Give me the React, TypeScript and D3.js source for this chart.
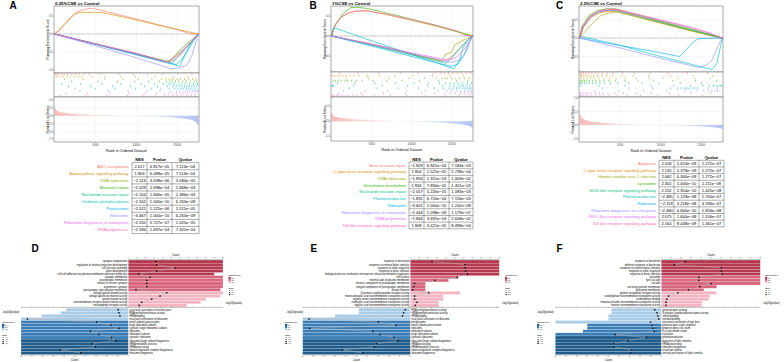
import * as d3 from 'd3';

const FONT = '"Liberation Sans", Arial, Helvetica, sans-serif';
const HUE = ['#F8766D', '#D89000', '#A3A500', '#39B600', '#00BF7D', '#00BFC4', '#00B0F6', '#9590FF', '#E76BF3', '#FF62BC'];
const N_GENES = 17600;
const RANK_TICKS = [5000, 10000, 15000];

type Pt = [number, number];

// ---------- A: 0.25%CSE vs Control ----------
const aTitle = '0.25%CSE vs Control';
const aSets = ['ABC transporters', 'Adipocytokine signaling pathway', 'DNA replication', 'Mismatch repair', 'Nucleotide excision repair', 'Oxidative phosphorylation', 'Proteasome', 'Ribosome', 'Ribosome biogenesis in eukaryotes', 'RNA polymerase'];
const aNes = [2.017, 1.903, -2.116, -2.029, -2.104, -2.502, -2.521, -3.467, -2.25, -2.336];
const aP = [6.817e-5, 6.088e-5, 3.638e-6, 2.698e-4, 1.666e-5, 1.0e-10, 1.225e-6, 1.0e-10, 5.727e-7, 1.697e-4];
const aQ = [7.113e-4, 7.113e-4, 3.084e-5, 1.668e-3, 2.486e-4, 6.263e-9, 5.115e-5, 6.263e-9, 1.025e-5, 7.422e-4];
const aCurves: Pt[][] = [
  [[0, 0], [600, 0.1], [1200, 0.26], [2000, 0.45], [2600, 0.6], [3300, 0.66], [4300, 0.71], [5200, 0.69], [8000, 0.53], [12000, 0.3], [15000, 0.12], [16600, 0.01], [17600, 0]],
  [[0, 0], [800, 0.18], [1800, 0.42], [2500, 0.56], [3200, 0.6], [5800, 0.6], [9000, 0.44], [13000, 0.23], [16000, 0.08], [17600, 0]],
  [[0, 0], [4000, -0.22], [8000, -0.45], [12000, -0.67], [13800, -0.79], [14400, -0.7], [15400, -0.52], [16500, -0.3], [17600, 0]],
  [[0, 0], [5000, -0.27], [10000, -0.55], [14000, -0.77], [14600, -0.63], [15300, -0.46], [16000, -0.31], [16800, -0.16], [17600, 0]],
  [[0, 0], [5000, -0.28], [10000, -0.57], [14300, -0.82], [14900, -0.68], [15700, -0.48], [16600, -0.25], [17600, 0]],
  [[0, 0], [5000, -0.29], [10000, -0.58], [15300, -0.89], [15900, -0.62], [16500, -0.32], [17100, -0.12], [17600, 0]],
  [[0, 0], [5000, -0.28], [10000, -0.56], [14900, -0.85], [15600, -0.7], [16300, -0.45], [17000, -0.2], [17600, 0]],
  [[0, 0], [5000, -0.33], [10000, -0.66], [14300, -0.97], [15400, -0.93], [16200, -0.86], [16800, -0.6], [17200, -0.3], [17600, 0]],
  [[0, 0], [5000, -0.28], [10000, -0.56], [14000, -0.8], [14700, -0.7], [15500, -0.55], [16400, -0.3], [17600, 0]],
  [[0, 0], [5000, -0.27], [10000, -0.53], [13700, -0.77], [14500, -0.66], [15400, -0.5], [16400, -0.28], [17600, 0]],
];
const aHits: number[][] = [
  [0.1, 0.3, 0.5, 0.9, 1.2, 1.6, 2.1, 2.6, 3.0, 3.6, 4.2, 5.5, 7.8, 9.6, 11.4, 13.2, 15.1, 16.8],
  [0.2, 0.4, 0.8, 1.1, 1.5, 1.9, 2.4, 2.9, 3.3, 4.6, 6.2, 8.1, 9.9, 12.3, 14.6, 16.2],
  [1.2, 3.5, 6.1, 8.4, 10.2, 11.9, 13.1, 13.6, 14.0, 14.3, 14.6, 15.0, 15.4, 15.9, 16.4, 16.9, 17.3],
  [2.1, 5.3, 7.7, 9.8, 11.5, 12.8, 13.7, 14.1, 14.4, 14.8, 15.2, 15.7, 16.1, 16.6, 17.1, 17.4],
  [0.9, 3.2, 5.8, 8.1, 10.6, 12.2, 13.3, 13.9, 14.2, 14.6, 15.1, 15.5, 16.0, 16.5, 17.0, 17.5],
  [1.7, 4.4, 7.1, 9.3, 11.0, 12.6, 13.8, 14.5, 14.9, 15.3, 15.6, 15.9, 16.2, 16.5, 16.8, 17.1, 17.4],
  [2.5, 5.0, 7.4, 9.9, 11.8, 13.0, 14.0, 14.7, 15.1, 15.5, 15.8, 16.1, 16.4, 16.7, 17.0, 17.3],
  [3.1, 6.6, 9.0, 11.3, 12.9, 14.2, 14.9, 15.3, 15.6, 16.0, 16.3, 16.6, 16.9, 17.1, 17.3, 17.5],
  [1.4, 4.0, 6.8, 9.1, 11.1, 12.5, 13.5, 14.0, 14.4, 14.9, 15.4, 15.8, 16.3, 16.8, 17.2],
  [0.6, 3.8, 6.4, 8.9, 10.9, 12.4, 13.4, 13.9, 14.5, 15.0, 15.6, 16.2, 16.7, 17.2],
];
const aMetric: Pt[] = [[0, 2.6], [300, 1.6], [1000, 1.0], [3000, 0.55], [6000, 0.25], [9000, 0.02], [12000, -0.25], [15000, -0.7], [16800, -1.4], [17400, -2.4], [17600, -3.2]];
const aEsTicks = [0.5, 0, -0.5, -1.0];
const aMetricTicks = [5, 2.5, 0, -2.5, -5, -7.5];

// ---------- B: 1%CSE vs Control ----------
const bTitle = '1%CSE vs Control';
const bSets = ['Base excision repair', 'C-type lectin receptor signaling pathway', 'DNA replication', 'Glutathione metabolism', 'Nucleotide excision repair', 'Phototransduction', 'Ribosome', 'Ribosome biogenesis in eukaryotes', 'RNA polymerase', 'Toll-like receptor signaling pathway'];
const bNes = [-1.829, 1.904, -1.856, 1.934, -2.057, -1.831, -3.601, -2.444, -1.844, 1.908];
const bP = [6.941e-4, 1.521e-5, 1.351e-3, 7.894e-5, 5.226e-5, 6.72e-4, 1.0e-10, 1.098e-9, 3.691e-3, 3.421e-5];
const bQ = [7.184e-3, 5.738e-4, 1.009e-2, 1.401e-3, 1.083e-3, 7.156e-3, 1.242e-8, 1.179e-7, 2.608e-2, 8.498e-4];
const bCurves: Pt[][] = [
  [[0, 0], [5000, -0.22], [10000, -0.45], [14000, -0.63], [14800, -0.55], [15600, -0.4], [16500, -0.2], [17600, 0]],
  [[0, 0], [400, 0.25], [1200, 0.48], [2200, 0.58], [3000, 0.62], [4500, 0.63], [7000, 0.53], [10000, 0.39], [13000, 0.25], [15500, 0.12], [17600, 0]],
  [[0, 0], [5000, -0.2], [10000, -0.45], [13800, -0.63], [14200, -0.46], [15000, -0.41], [15400, -0.22], [16500, -0.1], [17600, 0]],
  [[0, 0], [500, 0.3], [1400, 0.55], [2400, 0.71], [3200, 0.72], [4400, 0.69], [7000, 0.57], [10000, 0.42], [13000, 0.27], [15500, 0.12], [17600, 0]],
  [[0, 0], [5000, -0.23], [10000, -0.47], [14300, -0.68], [15000, -0.55], [15800, -0.35], [16800, -0.15], [17600, 0]],
  [[0, 0], [150, 0.18], [400, 0.2], [5000, -0.12], [10000, -0.46], [15300, -0.82], [16000, -0.6], [16400, -0.3], [17000, -0.1], [17600, 0]],
  [[0, 0], [5000, -0.25], [10000, -0.51], [15000, -0.76], [15800, -0.7], [16500, -0.5], [17100, -0.2], [17600, 0]],
  [[0, 0], [5000, -0.21], [10000, -0.44], [15000, -0.66], [16000, -0.6], [16800, -0.4], [17300, -0.15], [17600, 0]],
  [[0, 0], [5000, -0.2], [10000, -0.42], [14500, -0.6], [15500, -0.55], [16500, -0.35], [17600, 0]],
  [[0, 0], [300, 0.22], [1000, 0.44], [2000, 0.57], [3000, 0.62], [4300, 0.63], [7000, 0.54], [10000, 0.41], [13000, 0.27], [15800, 0.12], [16500, 0.02], [17600, 0]],
];
const bHits: number[][] = [
  [1.0, 3.3, 5.9, 8.6, 10.8, 12.7, 13.6, 14.1, 14.6, 15.1, 15.7, 16.3, 16.9, 17.4],
  [0.1, 0.4, 0.7, 1.0, 1.4, 1.8, 2.3, 2.8, 3.4, 4.5, 6.0, 7.9, 10.1, 12.6, 14.8, 16.5],
  [1.8, 4.6, 7.2, 9.7, 11.6, 13.0, 13.8, 14.2, 14.5, 15.0, 15.4, 16.0, 16.6, 17.2],
  [0.2, 0.5, 0.8, 1.2, 1.7, 2.0, 2.5, 3.1, 3.8, 5.2, 6.9, 8.8, 11.0, 13.4, 15.6, 17.0],
  [0.7, 2.9, 5.4, 8.0, 10.3, 12.1, 13.5, 14.3, 14.8, 15.3, 15.8, 16.4, 17.0, 17.5],
  [0.05, 0.1, 0.2, 2.7, 6.3, 9.5, 12.0, 13.9, 14.8, 15.3, 15.9, 16.2, 16.5, 16.9, 17.3],
  [2.2, 5.7, 8.3, 10.9, 12.8, 14.0, 14.7, 15.2, 15.6, 16.0, 16.4, 16.7, 17.0, 17.2, 17.4],
  [1.5, 4.2, 7.0, 9.4, 11.7, 13.3, 14.4, 15.0, 15.7, 16.2, 16.6, 16.9, 17.2, 17.5],
  [0.8, 3.7, 6.5, 9.2, 11.3, 12.9, 14.1, 14.9, 15.5, 16.1, 16.6, 17.1, 17.5],
  [0.1, 0.3, 0.6, 0.9, 1.3, 1.8, 2.2, 2.7, 3.2, 3.9, 5.4, 7.3, 9.4, 11.8, 14.2, 16.0, 17.3],
];
const bMetric: Pt[] = [[0, 0.9], [300, 0.5], [1500, 0.3], [5000, 0.12], [9000, 0], [13000, -0.12], [16000, -0.3], [17300, -0.5], [17600, -0.7]];
const bEsTicks = [0.5, 0, -0.5];
const bMetricTicks = [1.5, 0, -1.5];

// ---------- C: 2.5%CSE vs Control ----------
const cTitle = '2.5%CSE vs Control';
const cSets = ['Apoptosis', 'C-type lectin receptor signaling pathway', 'Herpes simplex virus 1 infection', 'Lysosome', 'NOD-like receptor signaling pathway', 'Phototransduction', 'Ribosome', 'Ribosome biogenesis in eukaryotes', 'RIG-I-like receptor signaling pathway', 'Toll-like receptor signaling pathway'];
const cNes = [2.058, 2.135, 2.062, 2.302, 2.152, -2.485, -2.118, -2.48, 2.075, 2.164];
const cP = [5.613e-9, 5.379e-9, 6.3e-9, 1.0e-10, 2.354e-10, 1.129e-8, 3.218e-8, 4.6e-10, 1.6e-8, 8.448e-9];
const cQ = [1.272e-7, 1.272e-7, 1.272e-7, 1.211e-8, 1.425e-8, 1.7e-7, 4.336e-7, 1.856e-8, 1.556e-7, 1.461e-7];
const cCurves: Pt[][] = [
  [[0, 0], [500, 0.3], [1500, 0.58], [2500, 0.7], [3500, 0.76], [4500, 0.77], [7000, 0.62], [10000, 0.44], [13000, 0.26], [15500, 0.12], [17600, 0]],
  [[0, 0], [400, 0.28], [1300, 0.55], [2400, 0.68], [3600, 0.72], [4600, 0.72], [7000, 0.58], [10000, 0.41], [13000, 0.24], [16000, 0.08], [17600, 0]],
  [[0, 0], [600, 0.15], [1500, 0.38], [2600, 0.6], [3600, 0.68], [4700, 0.7], [7000, 0.57], [10000, 0.4], [13000, 0.23], [16000, 0.07], [17600, 0]],
  [[0, 0], [300, 0.32], [1200, 0.62], [2200, 0.74], [3300, 0.79], [4300, 0.79], [7000, 0.64], [10000, 0.46], [13000, 0.28], [16000, 0.1], [17600, 0]],
  [[0, 0], [400, 0.3], [1400, 0.6], [2500, 0.72], [3500, 0.75], [4600, 0.74], [7000, 0.6], [10000, 0.43], [13000, 0.26], [16000, 0.09], [17600, 0]],
  [[0, 0], [100, 0.05], [5000, -0.2], [10000, -0.5], [15000, -0.78], [16300, -0.85], [16900, -0.7], [17300, -0.3], [17600, 0]],
  [[0, 0], [5000, -0.2], [10000, -0.4], [12300, -0.5], [13000, -0.35], [13800, -0.15], [14600, -0.02], [17600, 0]],
  [[0, 0], [5000, -0.27], [10000, -0.55], [14700, -0.8], [15500, -0.75], [16300, -0.6], [16800, -0.35], [17300, -0.1], [17600, 0]],
  [[0, 0], [450, 0.3], [1400, 0.58], [2500, 0.71], [3600, 0.75], [4700, 0.75], [7000, 0.62], [10000, 0.47], [13000, 0.32], [16000, 0.13], [17600, 0]],
  [[0, 0], [350, 0.31], [1300, 0.6], [2300, 0.73], [3400, 0.78], [4500, 0.78], [7000, 0.65], [10000, 0.49], [13000, 0.33], [16000, 0.14], [17600, 0]],
];
const cHits: number[][] = [
  [0.1, 0.3, 0.5, 0.8, 1.1, 1.5, 1.9, 2.3, 2.8, 3.4, 4.1, 5.3, 6.8, 8.7, 10.9, 13.3, 15.8],
  [0.1, 0.2, 0.4, 0.7, 1.0, 1.3, 1.7, 2.2, 2.7, 3.3, 4.0, 5.1, 6.6, 8.5, 11.2, 14.0, 16.4],
  [0.2, 0.5, 0.9, 1.4, 1.8, 2.4, 3.0, 3.7, 4.5, 5.6, 7.0, 8.6, 10.3, 12.1, 14.2, 16.1],
  [0.05, 0.2, 0.4, 0.6, 0.9, 1.2, 1.6, 2.0, 2.5, 3.0, 3.6, 4.4, 5.6, 7.2, 9.1, 11.5, 14.3, 16.9],
  [0.1, 0.3, 0.6, 0.9, 1.2, 1.6, 2.0, 2.5, 3.1, 3.8, 4.7, 6.0, 7.7, 9.8, 12.4, 15.0],
  [0.05, 2.4, 5.6, 8.8, 11.6, 13.7, 15.2, 16.0, 16.5, 16.9, 17.2, 17.4, 17.5],
  [2.8, 6.1, 9.0, 11.2, 12.1, 12.5, 12.9, 13.2, 13.5, 13.9, 14.2, 14.5, 15.8, 17.0],
  [1.9, 4.8, 7.9, 10.7, 13.0, 14.5, 15.3, 15.9, 16.3, 16.7, 17.0, 17.3],
  [0.1, 0.4, 0.7, 1.0, 1.4, 1.9, 2.4, 2.9, 3.5, 4.3, 5.4, 6.9, 8.8, 11.1, 13.7, 16.2],
  [0.1, 0.2, 0.5, 0.8, 1.1, 1.5, 2.0, 2.5, 3.0, 3.7, 4.6, 5.9, 7.5, 9.6, 12.2, 15.1],
];
const cMetric: Pt[] = [[0, 2.2], [200, 1.5], [800, 0.9], [2500, 0.5], [6000, 0.15], [10000, -0.05], [14000, -0.2], [16500, -0.4], [17600, -0.7]];
const cEsTicks = [0.5, 0, -0.5];
const cMetricTicks = [5, 2.5, 0, -2.5];

// ---------- D ----------
const dUpTerms = ['synapse organization', 'regulation of neuron projection development', 'cell junction assembly', 'axon development', 'cell-cell adhesion via plasma-membrane adhesion molecules', 'synaptic membrane', 'postsynaptic membrane', 'neuron to neuron synapse', 'asymmetric synapse', 'postsynaptic specialization membrane', 'voltage-gated channel activity', 'voltage-gated ion channel activity', 'gated channel activity', 'transmembrane receptor protein kinase activity', 'neuropeptide receptor activity'];
const dUpOnt = ['BP', 'BP', 'BP', 'BP', 'BP', 'CC', 'CC', 'CC', 'CC', 'CC', 'MF', 'MF', 'MF', 'MF', 'MF'];
const dUpCount = [110, 110, 110, 110, 100, 110, 110, 110, 110, 107, 110, 107, 90, 84, 68];
const dUpNlp = [12.9, 13.2, 21.8, 13.2, 5.1, 10.1, 8.6, 8.6, 8.6, 3.6, 17.9, 14.8, 10.9, 6.2, 5.1];
const dDownTerms = ['structural constituent of nuclear pore', 'RNA methyltransferase activity', 'rRNA binding', 'structural constituent of ribosome', 'small-subunit processome', 'large ribosomal subunit', 'cytosolic large ribosomal subunit', 'ribosome', 'ribosomal subunit', 'cytosolic ribosome', 'ribosomal large subunit biogenesis', 'rRNA metabolic process', 'rRNA processing', 'ribonucleoprotein complex biogenesis', 'ribosome biogenesis'];
const dDownOnt = ['MF', 'MF', 'MF', 'MF', 'CC', 'CC', 'CC', 'CC', 'CC', 'CC', 'BP', 'BP', 'BP', 'BP', 'BP'];
const dDownCount = [58, 63, 81, 100, 100, 100, 100, 100, 100, 100, 100, 100, 100, 100, 100];
const dDownNlp = [4.7, 4.4, 3.9, 47.0, 14.8, 8.1, 4.4, 17.6, 13.7, 7.8, 5.9, 16.7, 15.3, 31.6, 22.1];

// ---------- E ----------
const eUpTerms = ['response to bacterium', 'response to external biotic stimulus', 'response to other organism', 'response to biotic stimulus', 'biological process involved in interspecies interaction between organisms', 'cell surface', 'external side of plasma membrane', 'intrinsic component of postsynaptic membrane', 'integral component of postsynaptic membrane', 'keratin filament', 'G protein-coupled peptide receptor activity', 'monocarboxylic acid transmembrane transporter activity', 'organic anion transmembrane transporter activity', 'carboxylic acid transmembrane transporter activity', 'organic acid transmembrane transporter activity'];
const eUpOnt = dUpOnt;
const eUpCount = [100, 100, 100, 100, 100, 54, 43, 17, 17, 17, 56, 37, 37, 32, 32];
const eUpNlp = [10.1, 25.4, 25.4, 25.7, 26.5, 21.8, 11.4, 2.0, 1.6, 1.1, 8.6, 2.0, 2.0, 3.1, 2.3];
const eDownTerms = ['RNA methyltransferase activity', 'rRNA methyltransferase activity', 'rRNA binding', 'structural constituent of ribosome', 'preribosome', 'small-subunit processome', 'ribosome', 'ribosomal subunit', 'large ribosomal subunit', 'cytosolic ribosome', 'ribosomal large subunit biogenesis', 'rRNA processing', 'rRNA metabolic process', 'ribonucleoprotein complex biogenesis', 'ribosome biogenesis'];
const eDownOnt = dDownOnt;
const eDownCount = [48, 48, 70, 100, 100, 100, 100, 100, 100, 100, 100, 100, 100, 100, 100];
const eDownNlp = [2.3, 3.1, 3.6, 47.0, 14.8, 6.7, 46.7, 17.4, 14.0, 7.5, 5.8, 15.6, 16.7, 31.5, 22.1];

// ---------- F ----------
const fUpTerms = ['response to bacterium', 'defense response to bacterium', 'response to external biotic stimulus', 'response to other organism', 'response to biotic stimulus', 'lysosome', 'lytic vacuole', 'vacuole', 'secretory granule membrane', 'lysosomal membrane', 'pattern recognition receptor activity', 'carbohydrate transmembrane transporter activity', 'carbohydrate binding', 'monosaccharide transmembrane transporter activity', 'hexose transmembrane transporter activity'];
const fUpOnt = dUpOnt;
const fUpCount = [100, 100, 100, 100, 100, 100, 100, 100, 56, 43, 56, 49, 48, 41, 41];
const fUpNlp = [11.2, 6.2, 28.3, 28.3, 28.7, 17.8, 17.8, 23.4, 18.2, 12.8, 7.8, 3.4, 2.6, 2.2, 2.2];
const fDownTerms = ['photoreceptor activity', 'G protein-coupled photoreceptor activity', 'retinal binding', 'retinoid binding', 'structural constituent of eye lens', 'photoreceptor outer segment', 'photoreceptor cell cilium', '9+0 non-motile cilium', 'nucleolus', 'phototransduction', 'detection of light stimulus', 'rRNA processing', 'ribosome biogenesis', 'visual perception', 'sensory perception of light stimulus'];
const fDownOnt = ['MF', 'MF', 'MF', 'MF', 'MF', 'CC', 'CC', 'CC', 'CC', 'BP', 'BP', 'BP', 'BP', 'BP', 'BP'];
const fDownCount = [47, 47, 50, 50, 100, 70, 70, 74, 100, 100, 100, 100, 100, 100, 100];
const fDownNlp = [3.1, 2.0, 1.6, 1.2, 5.1, 4.4, 3.9, 3.3, 21.8, 7.0, 15.6, 22.3, 22.3, 14.0, 14.5];

const upNesLabels = ['1.9', '2.0', '2.1'];
const downNesLabels = ['-2.4', '-2.2', '-2.0', '-1.8'];

const RED: Record<string, string> = { BP: '#B63A50', CC: '#D8667D', MF: '#F4B5C2' };
const BLUE: Record<string, string> = { BP: '#1F5C8B', CC: '#3B7DB6', MF: '#A9CCE8' };

function fmtNes(v: number) {
  return (v < 0 ? '\u2212' : '') + Math.abs(v).toFixed(3);
}
function fmtSci(v: number) {
  const [m, e] = v.toExponential(3).split('e');
  const n = parseInt(e, 10);
  return `${m}e${n < 0 ? '\u2212' : '+'}${String(Math.abs(n)).padStart(2, '0')}`;
}

type GseaLayout = {
  letterX: number; left: number; right: number; top: number; mid1: number; mid2: number; bottom: number;
  es0: number; esUnit: number; m0: number; mUnit: number;
  nameX: number; cols: number[]; headY: number; bodyTop: number; rowH: number;
};

type GseaProps = {
  id: string; letter: string; title: string; sets: string[]; nes: number[]; pv: number[]; qv: number[];
  curves: Pt[][]; hits: number[][]; metric: Pt[]; esTicks: number[]; metricTicks: number[]; L: GseaLayout;
};

function GseaPanel({ id, letter, title, sets, nes, pv, qv, curves, hits, metric, esTicks, metricTicks, L }: GseaProps) {
  const x = d3.scaleLinear().domain([0, N_GENES]).range([L.left + 0.6, L.right - 0.6]);
  const yEs = d3.scaleLinear().domain([0, 1]).range([L.es0, L.es0 - L.esUnit]);
  const yM = d3.scaleLinear().domain([0, 1]).range([L.m0, L.m0 - L.mUnit]);
  const line = d3.line<Pt>().x((d) => x(d[0])).y((d) => yEs(d[1]));
  const area = d3.area<Pt>().x((d) => x(d[0])).y0(yM(0)).y1((d) => yM(d[1])).curve(d3.curveMonotoneX);
  const rugH = (L.mid2 - L.mid1) / sets.length;
  const fmt1 = d3.format('.1f');
  const W = L.right - L.left;
  const tickCol = '#4D4D4D';
  const grid = '#EBEBEB';
  const rows = d3.range(sets.length);
  const cellX = [0, 1, 2].map((i) => (L.cols[i] + L.cols[i + 1]) / 2);
  return (
    <g>
      <defs>
        <clipPath id={`clip-${id}`}>
          <rect x={L.left} y={L.top} width={W} height={L.mid1 - L.top} />
        </clipPath>
        <linearGradient id={`grad-${id}`} x1="0" x2="1" y1="0" y2="0">
          <stop offset="0%" stopColor="#F59C96" stopOpacity={0.7} />
          <stop offset="45%" stopColor="#FBE3E1" stopOpacity={0.5} />
          <stop offset="55%" stopColor="#E3E9FA" stopOpacity={0.5} />
          <stop offset="100%" stopColor="#8EA9EE" stopOpacity={0.7} />
        </linearGradient>
      </defs>
      <text x={L.letterX} y={9} fontSize={10} fontWeight="bold">{letter}</text>
      <text x={L.left + 1} y={4.6} fontSize={4.4} fontWeight="bold">{title}</text>

      {/* running enrichment score */}
      <rect x={L.left} y={L.top} width={W} height={L.mid1 - L.top} fill="white" />
      {RANK_TICKS.map((t) => <line key={t} x1={x(t)} x2={x(t)} y1={L.top} y2={L.mid1} stroke={grid} strokeWidth={0.4} />)}
      {esTicks.map((t) => <line key={t} x1={L.left} x2={L.right} y1={yEs(t)} y2={yEs(t)} stroke={grid} strokeWidth={0.4} />)}
      <line x1={L.left} x2={L.right} y1={yEs(0)} y2={yEs(0)} stroke="#555" strokeWidth={0.45} strokeDasharray="1.2,0.9" />
      <g clipPath={`url(#clip-${id})`}>
        {curves.map((c, i) => <path key={i} d={line(c) ?? ''} fill="none" stroke={HUE[i]} strokeWidth={0.65} />)}
      </g>
      <rect x={L.left} y={L.top} width={W} height={L.mid1 - L.top} fill="none" stroke="#555" strokeWidth={0.5} />
      {esTicks.map((t) => (
        <g key={t}>
          <line x1={L.left - 0.8} x2={L.left} y1={yEs(t)} y2={yEs(t)} stroke="#555" strokeWidth={0.3} />
          <text x={L.left - 1.2} y={yEs(t) + 1} fontSize={2.8} textAnchor="end" fill={tickCol}>{fmt1(t)}</text>
        </g>
      ))}
      <text transform={`translate(${L.left - 5},${(L.top + L.mid1) / 2}) rotate(-90)`} fontSize={3.4} textAnchor="middle">Running Enrichment Score</text>

      {/* rug of hits */}
      <rect x={L.left} y={L.mid1} width={W} height={L.mid2 - L.mid1} fill="white" stroke="#555" strokeWidth={0.5} />
      {hits.map((hs, i) => hs.map((h, j) => (
        <line key={`${i}-${j}`} x1={x(h * 1000)} x2={x(h * 1000)} y1={L.mid1 + i * rugH + 0.25} y2={L.mid1 + (i + 1) * rugH - 0.25} stroke={HUE[i]} strokeWidth={0.55} />
      )))}

      {/* ranked list metric */}
      <rect x={L.left} y={L.mid2} width={W} height={L.bottom - L.mid2} fill="white" />
      {RANK_TICKS.map((t) => <line key={t} x1={x(t)} x2={x(t)} y1={L.mid2} y2={L.bottom} stroke={grid} strokeWidth={0.4} />)}
      {metricTicks.map((t) => <line key={t} x1={L.left} x2={L.right} y1={yM(t)} y2={yM(t)} stroke={grid} strokeWidth={0.4} />)}
      <path d={area(metric) ?? ''} fill={`url(#grad-${id})`} />
      <rect x={L.left} y={L.mid2} width={W} height={L.bottom - L.mid2} fill="none" stroke="#555" strokeWidth={0.5} />
      {metricTicks.map((t) => (
        <g key={t}>
          <line x1={L.left - 0.8} x2={L.left} y1={yM(t)} y2={yM(t)} stroke="#555" strokeWidth={0.3} />
          <text x={L.left - 1.2} y={yM(t) + 1} fontSize={2.8} textAnchor="end" fill={tickCol}>{fmt1(t)}</text>
        </g>
      ))}
      <text transform={`translate(${L.left - 5},${(L.mid2 + L.bottom) / 2}) rotate(-90)`} fontSize={3.4} textAnchor="middle">Ranked List Metric</text>
      {RANK_TICKS.map((t) => (
        <g key={t}>
          <line x1={x(t)} x2={x(t)} y1={L.bottom} y2={L.bottom + 0.8} stroke="#555" strokeWidth={0.3} />
          <text x={x(t)} y={L.bottom + 3.8} fontSize={2.9} textAnchor="middle" fill={tickCol}>{t}</text>
        </g>
      ))}
      <text x={(L.left + L.right) / 2} y={L.bottom + 9.5} fontSize={3.7} textAnchor="middle">Rank in Ordered Dataset</text>

      {/* table */}
      {['NES', 'Pvalue', 'Qvalue'].map((h, i) => (
        <text key={h} x={cellX[i]} y={L.headY} fontSize={4.1} fontWeight="bold" textAnchor="middle">{h}</text>
      ))}
      {rows.map((i) => {
        const cy = L.bodyTop + (i + 0.5) * L.rowH + 1.4;
        return (
          <g key={i}>
            <text x={L.nameX} y={cy} fontSize={4.1} textAnchor="end" fill={HUE[i]}>{sets[i]}</text>
            <text x={cellX[0]} y={cy} fontSize={4.1} textAnchor="middle">{fmtNes(nes[i])}</text>
            <text x={cellX[1]} y={cy} fontSize={4.1} textAnchor="middle">{fmtSci(pv[i])}</text>
            <text x={cellX[2]} y={cy} fontSize={4.1} textAnchor="middle">{fmtSci(qv[i])}</text>
          </g>
        );
      })}
      {d3.range(sets.length + 1).map((i) => (
        <line key={i} x1={L.cols[0]} x2={L.cols[3]} y1={L.bodyTop + i * L.rowH} y2={L.bodyTop + i * L.rowH} stroke="#333" strokeWidth={0.4} />
      ))}
      {L.cols.map((c, i) => (
        <line key={i} x1={c} x2={c} y1={L.bodyTop} y2={L.bodyTop + sets.length * L.rowH} stroke="#333" strokeWidth={0.4} />
      ))}
    </g>
  );
}

const Y_TOPAXIS = 259.3;
const Y_RED0 = 260;
const Y_MID = 307.4;
const Y_BLUE0 = 308.2;
const Y_BLUE1 = 354.5;
const Y_BOTAXIS = 355;

function Legend({ x, y, colors, labels }: { x: number; y: number; colors: Record<string, string>; labels: string[] }) {
  return (
    <g>
      <text x={x} y={y} fontSize={2.3}>ONTOLOGY</text>
      {['BP', 'CC', 'MF'].map((k, i) => (
        <g key={k}>
          <rect x={x} y={y + 0.9 + i * 2.1} width={2.2} height={2.1} fill={colors[k]} />
          <text x={x + 3} y={y + 2.6 + i * 2.1} fontSize={1.7}>{k}</text>
        </g>
      ))}
      <text x={x} y={y + 12.5} fontSize={2.3}>NES</text>
      {labels.map((l, i) => (
        <g key={l}>
          <circle cx={x + 1.1} cy={y + 14.5 + i * 2} r={0.45 + i * 0.12} fill="black" />
          <text x={x + 3} y={y + 15.1 + i * 2} fontSize={1.7}>{l}</text>
        </g>
      ))}
    </g>
  );
}

type BarProps = {
  letter: string; letterX: number; x0: number; xR: number; xL: number;
  upTerms: string[]; upOnt: string[]; upCount: number[]; upNlp: number[];
  downTerms: string[]; downOnt: string[]; downCount: number[]; downNlp: number[];
  legRX: number; legLX: number; nlpLabelLX: number;
};

function BarPanel(p: BarProps) {
  const upMax = d3.max(p.upCount) ?? 1;
  const downMax = d3.max(p.downCount) ?? 1;
  const xUp = d3.scaleLinear().domain([0, upMax]).range([p.x0, p.xR]);
  const xDown = d3.scaleLinear().domain([0, downMax]).range([p.x0, p.xL]);
  const nlp = d3.scaleLinear().domain([0, 50]).range([0, p.x0 - p.xL]);
  const yUp = d3.scaleBand<number>().domain(d3.range(p.upTerms.length)).range([Y_RED0, Y_MID - 0.4]);
  const yDown = d3.scaleBand<number>().domain(d3.range(p.downTerms.length)).range([Y_BLUE0, Y_BLUE1]);
  const upPts: Pt[] = p.upNlp.map((v, i) => [p.x0 + nlp(v), yUp(i)! + yUp.bandwidth() / 2]);
  const downPts: Pt[] = p.downNlp.map((v, i) => [p.x0 - nlp(v), yDown(i)! + yDown.bandwidth() / 2]);
  const poly = d3.line<Pt>();
  const rightUnits = nlp.invert(p.xR - p.x0);
  const midTicks = d3.range(-50, rightUnits + 0.01, 5);
  const fs = 2.6;
  return (
    <g>
      <text x={p.letterX} y={252} fontSize={10} fontWeight="bold">{p.letter}</text>
      {/* up-regulated bars */}
      {p.upTerms.map((t, i) => (
        <g key={t + i}>
          <rect x={p.x0} y={yUp(i)} width={xUp(p.upCount[i]) - p.x0} height={yUp.bandwidth()} fill={RED[p.upOnt[i]]} stroke="white" strokeWidth={0.2} />
          <text x={p.x0 - 1} y={yUp(i)! + yUp.bandwidth() / 2 + 0.9} fontSize={fs} textAnchor="end">{t}</text>
        </g>
      ))}
      {/* down-regulated bars */}
      {p.downTerms.map((t, i) => (
        <g key={t + i}>
          <rect x={xDown(p.downCount[i])} y={yDown(i)} width={p.x0 - xDown(p.downCount[i])} height={yDown.bandwidth()} fill={BLUE[p.downOnt[i]]} stroke="white" strokeWidth={0.2} />
          <text x={p.x0 + 1} y={yDown(i)! + yDown.bandwidth() / 2 + 0.9} fontSize={fs}>{t}</text>
        </g>
      ))}
      <path d={poly(upPts) ?? ''} fill="none" stroke="#B5B5B5" strokeWidth={0.45} />
      <path d={poly(downPts) ?? ''} fill="none" stroke="#B5B5B5" strokeWidth={0.45} />
      {upPts.map((d, i) => <rect key={i} x={d[0] - 0.7} y={d[1] - 0.7} width={1.4} height={1.4} fill="black" />)}
      {downPts.map((d, i) => <rect key={i} x={d[0] - 0.7} y={d[1] - 0.7} width={1.4} height={1.4} fill="black" />)}

      {/* top count axis */}
      <line x1={p.x0} x2={p.xR} y1={Y_TOPAXIS} y2={Y_TOPAXIS} stroke="#333" strokeWidth={0.3} />
      {xUp.ticks(10).map((t) => (
        <g key={t}>
          <line x1={xUp(t)} x2={xUp(t)} y1={Y_TOPAXIS} y2={Y_TOPAXIS - 0.7} stroke="#333" strokeWidth={0.25} />
          <text x={xUp(t)} y={Y_TOPAXIS - 1} fontSize={1.6} textAnchor="middle" fill="#555">{t}</text>
        </g>
      ))}
      <text x={(p.x0 + p.xR) / 2} y={255.8} fontSize={2.7} textAnchor="middle">Count</text>

      {/* middle -log10(p) axis */}
      <line x1={p.xL} x2={p.xR} y1={Y_MID} y2={Y_MID} stroke="#333" strokeWidth={0.3} />
      {midTicks.map((t) => {
        const tx = p.x0 + (t < 0 ? -nlp(-t) : nlp(t));
        return <line key={t} x1={tx} x2={tx} y1={Y_MID - 0.7} y2={Y_MID + 0.3} stroke="#333" strokeWidth={0.25} />;
      })}
      <text x={p.xR + 2} y={303.5} fontSize={2.6}>{'\u2212log10(pvalue)'}</text>
      <text x={p.nlpLabelLX} y={312.5} fontSize={2.6}>{'\u2212log10(pvalue)'}</text>

      {/* bottom count axis */}
      <line x1={p.xL} x2={p.x0} y1={Y_BOTAXIS} y2={Y_BOTAXIS} stroke="#333" strokeWidth={0.3} />
      {xDown.ticks(10).map((t) => (
        <g key={t}>
          <line x1={xDown(t)} x2={xDown(t)} y1={Y_BOTAXIS} y2={Y_BOTAXIS + 0.7} stroke="#333" strokeWidth={0.25} />
          <text x={xDown(t)} y={Y_BOTAXIS + 2.4} fontSize={1.6} textAnchor="middle" fill="#555">{t}</text>
        </g>
      ))}
      <text x={(p.x0 + p.xL) / 2} y={360.5} fontSize={2.7} textAnchor="middle">Count</text>

      <Legend x={p.legRX} y={276} colors={RED} labels={upNesLabels} />
      <Legend x={p.legLX} y={323} colors={BLUE} labels={downNesLabels} />
    </g>
  );
}

export default function App() {
  return (
    <svg width={784} height={362} viewBox="0 0 784 362" style={{ position: 'absolute', left: 0, top: 0, background: 'white' }} fontFamily={FONT}>
      <rect width={784} height={362} fill="white" />
      <GseaPanel id="a" letter="A" title={aTitle} sets={aSets} nes={aNes} pv={aP} qv={aQ} curves={aCurves} hits={aHits} metric={aMetric} esTicks={aEsTicks} metricTicks={aMetricTicks}
        L={{ letterX: 9.5, left: 54, right: 199, top: 6, mid1: 73, mid2: 97, bottom: 142, es0: 34, esUnit: 36, m0: 115.7, mUnit: 3.16, nameX: 128.5, cols: [132, 147, 172, 199], headY: 161.2, bodyTop: 162.6, rowH: 7.1 }} />
      <GseaPanel id="b" letter="B" title={bTitle} sets={bSets} nes={bNes} pv={bP} qv={bQ} curves={bCurves} hits={bHits} metric={bMetric} esTicks={bEsTicks} metricTicks={bMetricTicks}
        L={{ letterX: 309.5, left: 331, right: 473, top: 6, mid1: 72, mid2: 97, bottom: 141, es0: 36, esUnit: 40, m0: 121.3, mUnit: 10, nameX: 406, cols: [409, 424, 449, 473], headY: 160.6, bodyTop: 162, rowH: 6.68 }} />
      <GseaPanel id="c" letter="C" title={cTitle} sets={cSets} nes={cNes} pv={cP} qv={cQ} curves={cCurves} hits={cHits} metric={cMetric} esTicks={cEsTicks} metricTicks={cMetricTicks}
        L={{ letterX: 556, left: 579, right: 723, top: 6, mid1: 72, mid2: 97, bottom: 142, es0: 38, esUnit: 37, m0: 125, mUnit: 5.4, nameX: 656, cols: [659, 674, 699, 724], headY: 159.3, bodyTop: 160.3, rowH: 6.65 }} />

      <BarPanel letter="D" letterX={31.5} x0={128.3} xR={223} xL={21}
        upTerms={dUpTerms} upOnt={dUpOnt} upCount={dUpCount} upNlp={dUpNlp}
        downTerms={dDownTerms} downOnt={dDownOnt} downCount={dDownCount} downNlp={dDownNlp}
        legRX={228.5} legLX={2} nlpLabelLX={2} />
      <BarPanel letter="E" letterX={310.5} x0={410.3} xR={499.3} xL={302.7}
        upTerms={eUpTerms} upOnt={eUpOnt} upCount={eUpCount} upNlp={eUpNlp}
        downTerms={eDownTerms} downOnt={eDownOnt} downCount={eDownCount} downNlp={eDownNlp}
        legRX={505} legLX={285} nlpLabelLX={286} />
      <BarPanel letter="F" letterX={556.5} x0={661.3} xR={760.3} xL={555.3}
        upTerms={fUpTerms} upOnt={fUpOnt} upCount={fUpCount} upNlp={fUpNlp}
        downTerms={fDownTerms} downOnt={fDownOnt} downCount={fDownCount} downNlp={fDownNlp}
        legRX={765} legLX={537} nlpLabelLX={536.5} />
    </svg>
  );
}
